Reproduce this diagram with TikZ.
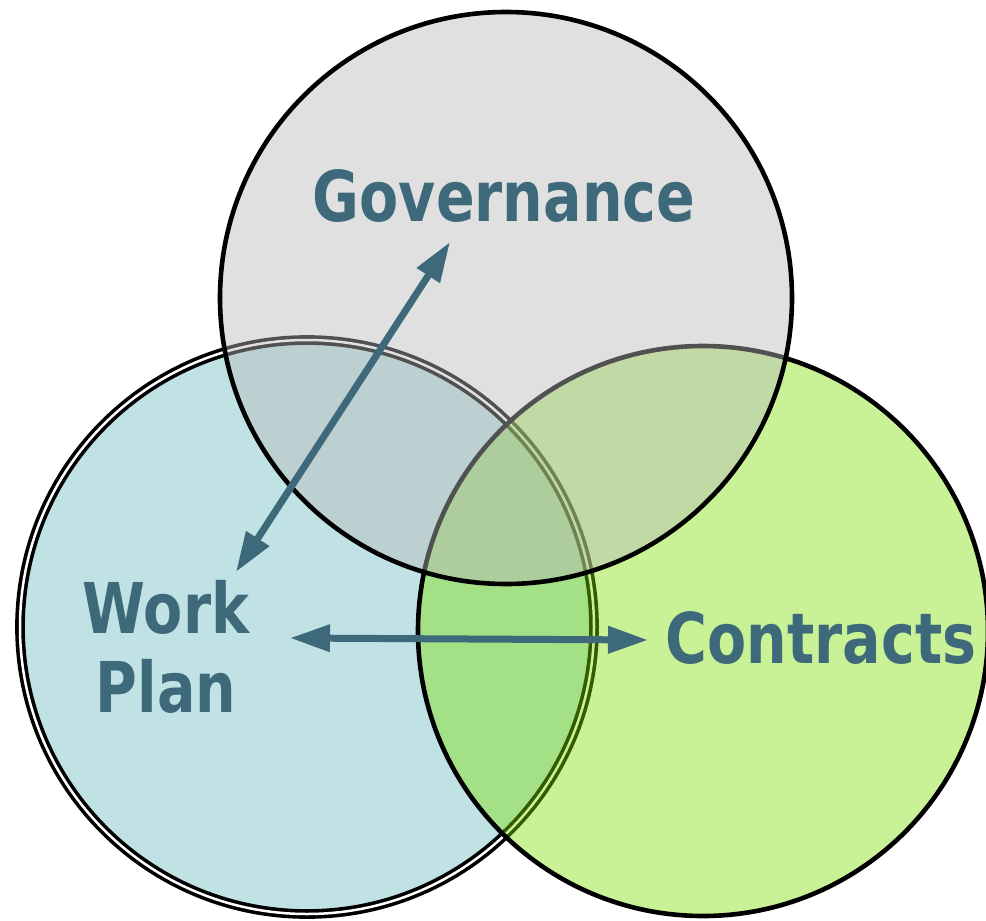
\documentclass[tikz,border=0pt]{standalone}
\usepackage{fontspec}
\setmainfont{DejaVu Sans}
\usetikzlibrary{arrows.meta}
\definecolor{txtc}{RGB}{62,105,122}
\definecolor{wpfill}{RGB}{192,226,228}
\definecolor{ctfill}{RGB}{124,223,0}
\definecolor{gvfill}{RGB}{185,185,185}
\newcommand{\narrowtext}[1]{\scalebox{0.815}[1]{#1}}
\tikzset{
  label/.style={font=\fontsize{70}{78}\selectfont\bfseries, text=txtc, inner sep=0pt},
  conn/.style={draw=txtc, line width=7pt, {Triangle[length=40pt,width=26pt]}-{Triangle[length=40pt,width=26pt]}},
  venn/.style={circle, inner sep=0pt, outer sep=0pt}
}
\begin{document}
\begin{tikzpicture}[x=1pt,y=-1pt]
\useasboundingbox (0,0) rectangle (986,921);
\node[venn, minimum size=574pt, fill=wpfill, draw=black, double=white, double distance=2.5pt, line width=3.6pt] (work) at (307,627) {};
\node[venn, minimum size=570pt, fill=ctfill, fill opacity=0.41, draw=black, line width=4.6pt] (contr) at (703,631) {};
\node[venn, minimum size=572pt, fill=gvfill, fill opacity=0.44, draw=black, line width=4.6pt] (gov) at (506,298) {};
\node[label] (govl) at (504,196) {\narrowtext{Governance}};
\node[label] (workl) at (166,657) {\narrowtext{\begin{tabular}{@{}c@{}}Work\\[1pt]Plan\end{tabular}}};
\node[label] (contl) at (821,638) {\narrowtext{Contracts}};
\coordinate (g1) at (450,242);
\coordinate (w1) at (236,572);
\coordinate (w2) at (290,638);
\coordinate (c1) at (648,640);
\draw[conn] (w1) -- (g1);
\draw[conn] (w2) -- (c1);
\end{tikzpicture}
\end{document}
